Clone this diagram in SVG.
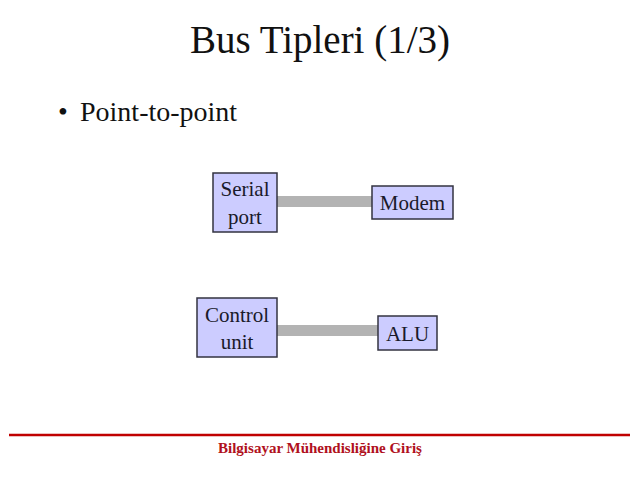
<svg xmlns="http://www.w3.org/2000/svg" width="640" height="480" viewBox="0 0 640 480">
<style>
.box{fill:#ccccff;stroke:#333340;stroke-width:1.5}
.lbl{font-family:"Liberation Serif",serif;font-size:21px;fill:#1a1a2a;text-anchor:middle}
.bus{stroke:#b3b3b3;stroke-width:11}
</style>
<rect width="640" height="480" fill="#fff"/>
<text x="320" y="53" font-family="Liberation Serif,serif" font-size="39" text-anchor="middle" fill="#111">Bus Tipleri (1/3)</text>
<text x="58" y="121" font-family="Liberation Serif,serif" font-size="28" fill="#111"><tspan>•</tspan><tspan x="80">Point-to-point</tspan></text>
<g id="connectors">
<line class="bus" x1="277" y1="201.5" x2="372" y2="201.5"/>
<line class="bus" x1="277" y1="330.5" x2="378" y2="330.5"/>
</g>
<g id="serial"><rect class="box" x="213" y="173" width="64" height="59"/><text class="lbl" x="245" y="196">Serial</text><text class="lbl" x="245" y="224">port</text></g>
<g id="modem"><rect class="box" x="372" y="186" width="81" height="33"/><text class="lbl" x="412.5" y="210">Modem</text></g>
<g id="control"><rect class="box" x="197" y="298" width="80" height="59"/><text class="lbl" x="237" y="322">Control</text><text class="lbl" x="237" y="349">unit</text></g>
<g id="alu"><rect class="box" x="378" y="316" width="59" height="34"/><text class="lbl" x="407.5" y="341">ALU</text></g>
<line x1="9" y1="435" x2="630" y2="435" stroke="#c00000" stroke-width="2.5"/>
<text x="320" y="453" font-family="Liberation Serif,serif" font-size="15" font-weight="bold" text-anchor="middle" fill="#b01020">Bilgisayar Mühendisliğine Giriş</text>
</svg>
